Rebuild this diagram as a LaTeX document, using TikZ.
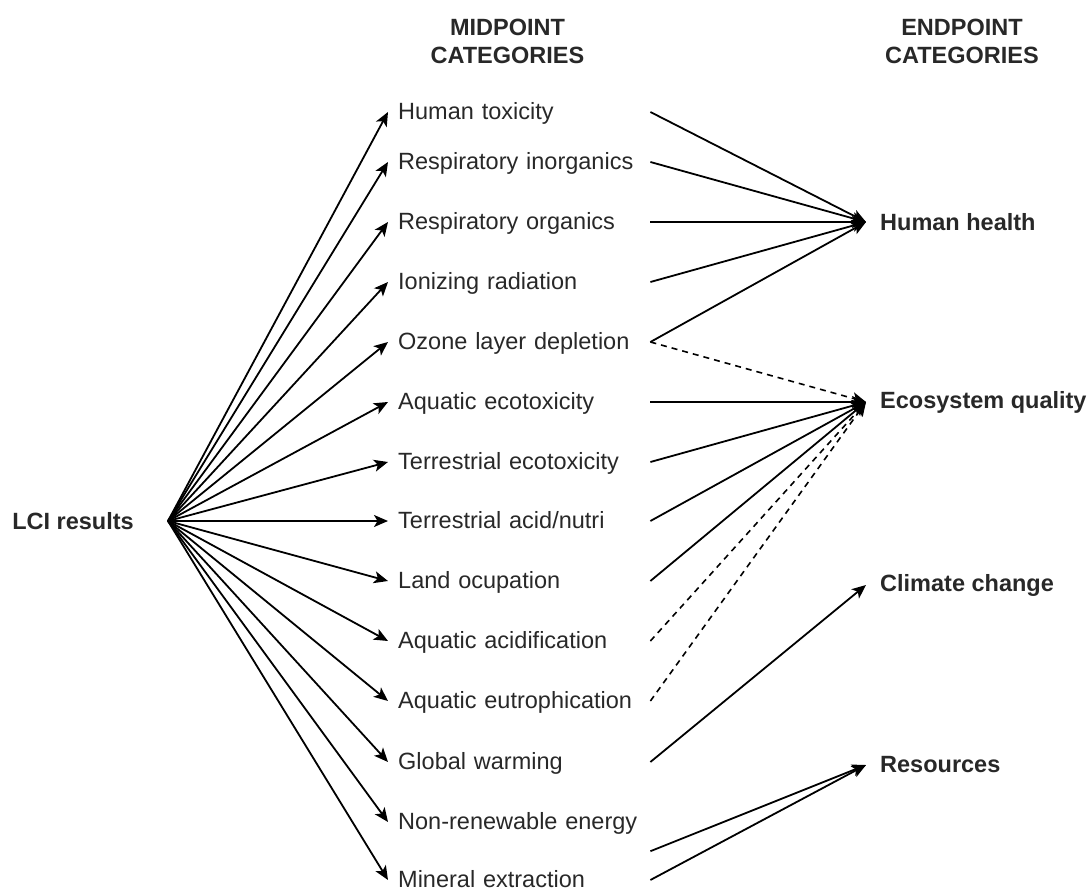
\documentclass[tikz,border=0pt]{standalone}
\usepackage{fontspec}
\setmainfont{Liberation Sans}
\usetikzlibrary{arrows.meta,calc}
\definecolor{txt}{RGB}{40,40,40}
\begin{document}
\begin{tikzpicture}[x=1pt,y=-1pt,
  every node/.style={font=\fontsize{23.5}{28}\selectfont, text=txt},
  head/.style={font=\fontsize{23.5}{28}\selectfont\bfseries, align=center, inner sep=0pt},
  midcat/.style={anchor=west, inner xsep=10pt, inner ysep=0pt, text width=242pt,
                 align=left, minimum height=58pt, text depth=3pt},
  endcat/.style={anchor=west, inner xsep=14pt, font=\fontsize{23.5}{28}\selectfont\bfseries},
  link/.style={line width=1.8pt, -{Stealth[length=14pt,width=12pt,inset=3.5pt]}},
  weak/.style={link, line width=1.6pt, dash pattern=on 6pt off 5pt},
]
\useasboundingbox (0,0) rectangle (1092,893);

% column headings
\node[head] (hmid) at (507.5,41) {MIDPOINT\\CATEGORIES};
\node[head] (hend) at (962,41) {ENDPOINT\\CATEGORIES};

% inventory
\node[anchor=east, inner xsep=34pt, font=\fontsize{23.5}{28}\selectfont\bfseries] (lci) at (168,521) {LCI results};

% midpoint categories
\node[midcat] (m1)  at (388,112) {Human toxicity};
\node[midcat] (m2)  at (388,162) {Respiratory inorganics};
\node[midcat] (m3)  at (388,222) {Respiratory organics};
\node[midcat] (m4)  at (388,282) {Ionizing radiation};
\node[midcat] (m5)  at (388,342) {Ozone layer depletion};
\node[midcat] (m6)  at (388,402) {Aquatic ecotoxicity};
\node[midcat] (m7)  at (388,462) {Terrestrial ecotoxicity};
\node[midcat] (m8)  at (388,521) {Terrestrial acid/nutri};
\node[midcat] (m9)  at (388,581) {Land ocupation};
\node[midcat] (m10) at (388,641) {Aquatic acidification};
\node[midcat] (m11) at (388,701) {Aquatic eutrophication};
\node[midcat] (m12) at (388,762) {Global warming};
\node[midcat] (m13) at (388,822) {Non-renewable energy};
\node[midcat] (m14) at (388,880) {Mineral extraction};

% endpoint categories
\node[endcat] (hh) at (866,222) {Human health};
\node[endcat] (eq) at (866,402) {Ecosystem quality};
\node[endcat] (cc) at (866,585) {Climate change};
\node[endcat] (rs) at (866,765) {Resources};

% inventory to midpoints
\foreach \m in {m1,m2,m3,m4,m5,m6,m7,m8,m9,m10,m11,m12,m13,m14}
  \draw[link] (lci.east) -- (\m.west);

% midpoints to human health
\foreach \m in {m1,m2,m3,m4,m5}
  \draw[link] (\m.east) -- (hh.west);

% midpoints to ecosystem quality
\foreach \m in {m6,m7,m8,m9}
  \draw[link] (\m.east) -- (eq.west);
\foreach \m in {m5,m10,m11}
  \draw[weak] (\m.east) -- (eq.west);

% climate change and resources
\draw[link] (m12.east) -- (cc.west);
\draw[link] (m13.south east) -- (rs.west);
\draw[link] (m14.east) -- (rs.west);
\end{tikzpicture}
\end{document}
